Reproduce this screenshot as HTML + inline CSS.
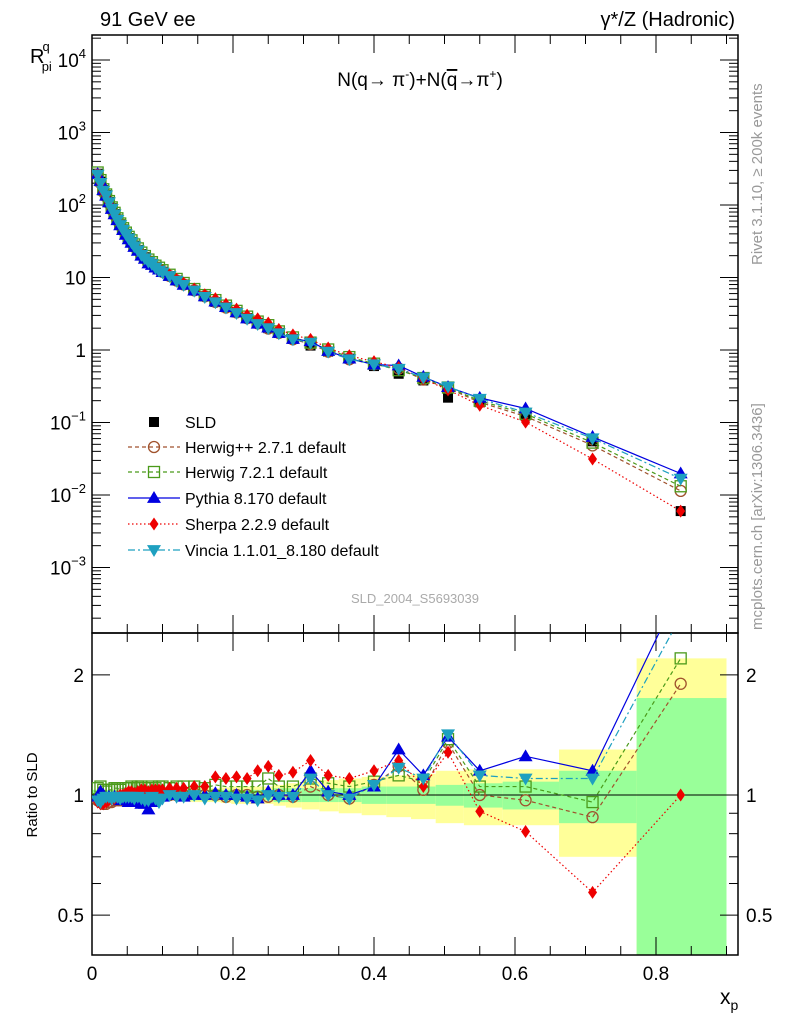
<!DOCTYPE html>
<html><head><meta charset="utf-8"><style>
body{margin:0;background:#fff;font-family:"Liberation Sans",sans-serif}
svg text{font-family:"Liberation Sans","DejaVu Sans",sans-serif}
</style></head><body>
<svg id="c" width="786" height="1024" xmlns="http://www.w3.org/2000/svg">
<text x="100" y="26" font-size="20">91 GeV ee</text>
<text x="735" y="26" font-size="20" text-anchor="end">γ*/Z (Hadronic)</text>
<text x="420" y="86" font-size="19" text-anchor="middle">N(q→ π<tspan font-size="12" dy="-8">-</tspan><tspan dy="8">)+N(</tspan><tspan text-decoration="overline">q</tspan>→π<tspan font-size="12" dy="-8">+</tspan><tspan dy="8">)</tspan></text>
<text x="30" y="63" font-size="20">R<tspan font-size="13" dy="-12" dx="-2">q</tspan><tspan font-size="13" dy="20" dx="-8">pi</tspan></text>
<text transform="translate(762,265) rotate(-90)" font-size="15" fill="#999">Rivet 3.1.10, ≥ 200k events</text>
<text transform="translate(762,630) rotate(-90)" font-size="15" fill="#999">mcplots.cern.ch [arXiv:1306.3436]</text>
<text x="415" y="603" font-size="13" fill="#aaa" text-anchor="middle">SLD_2004_S5693039</text>
<text transform="translate(37,795) rotate(-90)" font-size="15" text-anchor="middle">Ratio to SLD</text>
<text x="720" y="1004" font-size="21">x<tspan font-size="14" dy="6">p</tspan></text>
<g id="bands"></g><g id="axes"></g><g id="series"></g><g id="legend"></g>
</svg>
<script>
const xs=[0.008,0.012,0.016,0.02,0.024,0.028,0.032,0.036,0.04,0.044,0.048,0.052,0.056,0.06,0.065,0.07,0.075,0.08,0.085,0.09,0.095,0.1,0.11,0.12,0.13,0.145,0.16,0.175,0.19,0.205,0.22,0.235,0.25,0.265,0.285,0.31,0.335,0.365,0.4,0.435,0.47,0.505,0.55,0.615,0.71,0.835];
const sld=[270,210,160,137,110,90,75,63,54,46,40,35,31,27.5,24,21,19,17,15.5,14,13,12,10.5,9.1,8.0,6.6,5.5,4.6,3.9,3.3,2.75,2.35,2.0,1.72,1.42,1.15,0.95,0.76,0.6,0.47,0.38,0.22,0.19,0.125,0.055,0.006];
const rHpp=[0.97,0.96,0.95,0.95,0.96,0.96,0.97,0.97,0.97,0.98,0.98,0.97,0.98,0.97,0.99,0.98,0.97,0.97,0.98,0.99,1.0,1.0,1.0,1.0,1.0,1.01,1.0,1.0,0.99,1.0,1.0,0.99,0.99,1.0,0.99,1.05,1.0,0.98,1.06,1.18,1.03,1.35,1.0,0.97,0.88,1.9];
const rH7=[1.04,1.05,1.03,1.02,1.03,1.03,1.04,1.04,1.03,1.04,1.04,1.04,1.05,1.04,1.05,1.05,1.04,1.04,1.05,1.04,1.05,1.05,1.04,1.05,1.05,1.05,1.04,1.06,1.05,1.05,1.05,1.05,1.1,1.05,1.05,1.1,1.07,1.05,1.08,1.12,1.08,1.38,1.05,1.05,0.96,2.2];
const rPy=[0.99,1.02,1.0,0.98,0.99,0.98,0.99,0.98,0.97,0.98,0.97,0.96,0.97,0.96,0.97,0.95,0.95,0.92,0.96,0.98,0.99,0.99,1.0,1.0,0.99,1.0,1.0,1.01,1.0,1.0,0.99,0.98,1.02,1.0,1.0,1.15,1.02,1.0,1.05,1.3,1.12,1.4,1.15,1.25,1.15,3.3];
const rSh=[0.96,0.95,0.95,0.96,0.97,0.98,0.98,0.99,1.0,1.0,1.01,1.02,1.02,1.01,1.02,1.03,1.03,1.02,1.03,1.03,1.03,1.03,1.04,1.04,1.04,1.05,1.05,1.11,1.1,1.11,1.1,1.15,1.18,1.12,1.14,1.22,1.12,1.1,1.15,1.22,1.05,1.28,0.91,0.81,0.57,1.0];
const rVi=[0.97,0.96,0.98,0.99,0.99,0.98,0.99,0.99,0.98,0.99,0.99,0.99,0.99,0.98,0.99,0.98,0.97,0.97,0.99,0.98,0.96,0.98,1.0,0.99,0.99,1.0,0.98,0.99,0.99,0.98,0.98,0.97,1.0,0.99,0.99,1.1,1.0,0.98,1.06,1.17,1.1,1.42,1.12,1.1,1.1,2.8];
const errStat=[0.03,0.03,0.03,0.03,0.03,0.03,0.03,0.03,0.03,0.03,0.03,0.03,0.03,0.03,0.03,0.03,0.03,0.03,0.03,0.03,0.03,0.03,0.03,0.03,0.03,0.03,0.03,0.03,0.03,0.03,0.03,0.03,0.03,0.04,0.04,0.04,0.04,0.04,0.05,0.05,0.05,0.06,0.07,0.08,0.15,0.75];
const errTot=[0.03,0.03,0.03,0.03,0.03,0.03,0.03,0.03,0.03,0.03,0.03,0.03,0.03,0.03,0.03,0.03,0.03,0.03,0.03,0.03,0.03,0.03,0.03,0.03,0.035,0.04,0.04,0.04,0.045,0.05,0.05,0.05,0.05,0.06,0.07,0.08,0.09,0.1,0.11,0.12,0.13,0.15,0.16,0.16,0.3,1.2];
const xTicks=[0,0.2,0.4,0.6,0.8];
const NS="http://www.w3.org/2000/svg";
const L=92,R=738,T=35,B=633,B2=955;
const X=v=>L+v*705;
const Y=v=>350-Math.log10(v)*72.5;
const Yr=v=>795-Math.log10(v)*399;
function mk(p,tag,a){const e=document.createElementNS(NS,tag);for(const k in a)e.setAttribute(k,a[k]);p.appendChild(e);return e;}
const gb=document.getElementById('bands'),ga=document.getElementById('axes'),gs=document.getElementById('series'),gl=document.getElementById('legend');
const clipTop=mk(ga,'clipPath',{id:'ct'});mk(clipTop,'rect',{x:L,y:T,width:R-L,height:B-T});
const clipBot=mk(ga,'clipPath',{id:'cb'});mk(clipBot,'rect',{x:L,y:B,width:R-L,height:B2-B});
gb.setAttribute('clip-path','url(#cb)');
for(let i=0;i<xs.length;i++){
 const lo=i==0?0:(xs[i-1]+xs[i])/2, hi=i==xs.length-1?0.9:(xs[i]+xs[i+1])/2;
 const y=mk(gb,'rect',{x:X(lo),width:X(hi)-X(lo),y:Yr(1+errTot[i]),height:Yr(Math.max(0.3,1-errTot[i]))-Yr(1+errTot[i]),fill:'#ffff99'});
 
 
 const g=mk(gb,'rect',{x:X(lo),width:X(hi)-X(lo),y:Yr(1+errStat[i]),height:Yr(Math.max(0.3,1-errStat[i]))-Yr(1+errStat[i]),fill:'#99ff99'});
 
 
}
mk(ga,'line',{x1:L,x2:R,y1:Yr(1),y2:Yr(1),stroke:'#000','stroke-width':1});
mk(ga,'rect',{x:L,y:T,width:R-L,height:B-T,fill:'none',stroke:'#000','stroke-width':1.5});
mk(ga,'rect',{x:L,y:B,width:R-L,height:B2-B,fill:'none',stroke:'#000','stroke-width':1.5});
const ylab={'-3':'10<tspan font-size="13" dy="-9">−3</tspan>','-2':'10<tspan font-size="13" dy="-9">−2</tspan>','-1':'10<tspan font-size="13" dy="-9">−1</tspan>','0':'1','1':'10','2':'10<tspan font-size="13" dy="-9">2</tspan>','3':'10<tspan font-size="13" dy="-9">3</tspan>','4':'10<tspan font-size="13" dy="-9">4</tspan>'};
for(let d=-4;d<=4;d++){for(let m=1;m<10;m++){const v=m*Math.pow(10,d);const y=Y(v);if(y<T||y>B)continue;const len=m==1?18:9;
 mk(ga,'line',{x1:L,x2:L+len,y1:y,y2:y,stroke:'#000'});mk(ga,'line',{x1:R,x2:R-len,y1:y,y2:y,stroke:'#000'});
 if(m==1){const t=mk(ga,'text',{x:L-6,y:y+7,'font-size':19,'text-anchor':'end'});t.innerHTML=ylab[d];}}}
[0.5,0.6,0.7,0.8,0.9,1,2].forEach(v=>{const y=Yr(v);const big=(v==0.5||v==1||v==2);const len=big?18:9;
 mk(ga,'line',{x1:L,x2:L+len,y1:y,y2:y,stroke:'#000'});mk(ga,'line',{x1:R,x2:R-len,y1:y,y2:y,stroke:'#000'});
 if(big){const s=String(v);const t1=mk(ga,'text',{x:L-8,y:y+7,'font-size':19,'text-anchor':'end'});t1.textContent=s;
 const t2=mk(ga,'text',{x:R+8,y:y+7,'font-size':19});t2.textContent=s;}});
for(let i=0;i<=18;i++){const v=i*0.05;const x=X(v);if(x>R)break;const big=i%4==0;const len=big?18:9;
 [[T,1],[B,-1],[B,1],[B2,-1]].forEach(([y0,s])=>mk(ga,'line',{x1:x,x2:x,y1:y0,y2:y0+s*len,stroke:'#000'}));}
xTicks.forEach(v=>{const t=mk(ga,'text',{x:X(v),y:980,'font-size':19,'text-anchor':'middle'});t.textContent=v===0?'0':v.toFixed(1);});
function marker(p,type,x,y,col){const s=7;
 if(type=='sq')return mk(p,'rect',{x:x-5,y:y-5,width:10,height:10,fill:col});
 if(type=='osq')return mk(p,'rect',{x:x-5.5,y:y-5.5,width:11,height:11,fill:'none',stroke:col,'stroke-width':1.3});
 if(type=='oc')return mk(p,'circle',{cx:x,cy:y,r:5.5,fill:'none',stroke:col,'stroke-width':1.3});
 if(type=='tri')return mk(p,'polygon',{points:`${x},${y-s} ${x-s},${y+s*0.7} ${x+s},${y+s*0.7}`,fill:col});
 if(type=='itri')return mk(p,'polygon',{points:`${x},${y+s} ${x-s},${y-s*0.7} ${x+s},${y-s*0.7}`,fill:col});
 if(type=='dia')return mk(p,'polygon',{points:`${x},${y-6.5} ${x-4.5},${y} ${x},${y+6.5} ${x+4.5},${y}`,fill:col});}
const series=[
 {name:'Herwig++ 2.7.1 default',r:rHpp,col:'#a0522d',m:'oc',dash:'4,3',id:'herwigpp'},
 {name:'Herwig 7.2.1 default',r:rH7,col:'#4a9a1a',m:'osq',dash:'4,3',id:'herwig7'},
 {name:'Pythia 8.170 default',r:rPy,col:'#0000e0',m:'tri',dash:'',id:'pythia'},
 {name:'Sherpa 2.2.9 default',r:rSh,col:'#ee0000',m:'dia',dash:'1.5,2.5',id:'sherpa'},
 {name:'Vincia 1.1.01_8.180 default',r:rVi,col:'#1ea0c0',m:'itri',dash:'7,3,2,3',id:'vincia'}];
const gTop=mk(gs,'g',{'clip-path':'url(#ct)'}),gBot=mk(gs,'g',{'clip-path':'url(#cb)'});
const gd=mk(gTop,'g',{});


xs.forEach((x,i)=>{const a=marker(gd,'sq',X(x),Y(sld[i]),'#000');
 
 });
series.forEach(s=>{
 const gt=mk(gTop,'g',{});
 
 
 const gr=mk(gBot,'g',{});
 
 
 const pt=xs.map((x,i)=>X(x)+','+Y(sld[i]*s.r[i])).join(' ');
 const pr=xs.map((x,i)=>X(x)+','+Yr(s.r[i])).join(' ');
 mk(gt,'polyline',{points:pt,fill:'none',stroke:s.col,'stroke-width':1.2,'stroke-dasharray':s.dash});
 mk(gr,'polyline',{points:pr,fill:'none',stroke:s.col,'stroke-width':1.2,'stroke-dasharray':s.dash});
 xs.forEach((x,i)=>{const a=marker(gt,s.m,X(x),Y(sld[i]*s.r[i]),s.col);
  
  
  const b=marker(gr,s.m,X(x),Yr(s.r[i]),s.col);
  
  });
});
const ly=[422,447,472,498,524,550];
const le0=mk(gl,'g',{});


marker(le0,'sq',154,ly[0],'#000');const t0=mk(le0,'text',{x:185,y:ly[0]+6,'font-size':16});t0.textContent='SLD';
series.forEach((s,i)=>{const g=mk(gl,'g',{});
 
 
 mk(g,'line',{x1:128,x2:180,y1:ly[i+1],y2:ly[i+1],stroke:s.col,'stroke-width':1.2,'stroke-dasharray':s.dash});
 marker(g,s.m,154,ly[i+1],s.col);const t=mk(g,'text',{x:185,y:ly[i+1]+6,'font-size':16});t.textContent=s.name;});
</script>
</body></html>
